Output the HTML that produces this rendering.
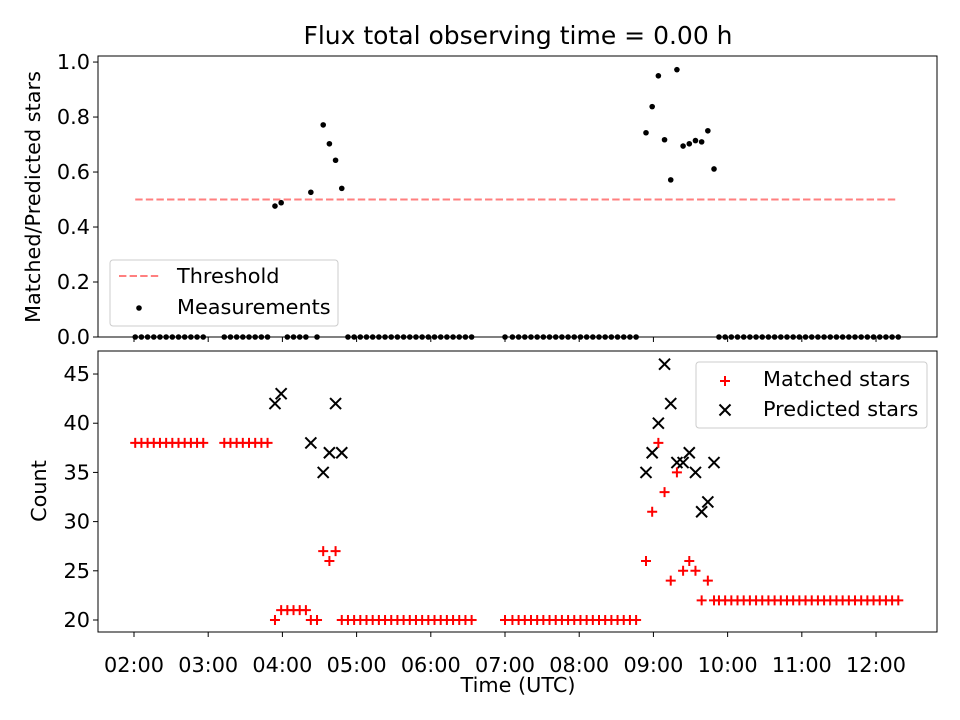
<!DOCTYPE html>
<html><head><meta charset="utf-8"><style>
body{margin:0;background:#fff}
svg{display:block;font-family:"DejaVu Sans","Liberation Sans",sans-serif}
</style></head><body>
<svg id="c" width="960" height="720"></svg>
<script>
// times in minutes since 00:00 UTC
const times=[121,126,131,136,141,146,151,156,161,166,171,176,
193,198,203,208,213,218,223,228,
234,239,244,249,254,259,263,268,273,278,283,288,
293,298,303,308,313,318,323,328,333,338,343,348,353,358,363,368,373,378,383,388,393,
420,426,431,436,441,446,451,456,461,466,471,476,481,486,491,496,501,506,511,516,521,526,
534,539,544,549,554,559,564,569,574,579,584,589,
593,598,603,608,613,618,623,628,633,638,643,648,653,658,663,668,673,678,683,688,693,698,703,708,713,718,723,728,733,738];
const matched=[38,38,38,38,38,38,38,38,38,38,38,38,
38,38,38,38,38,38,38,38,
20,21,21,21,21,21,20,20,27,26,27,20,
20,20,20,20,20,20,20,20,20,20,20,20,20,20,20,20,20,20,20,20,20,
20,20,20,20,20,20,20,20,20,20,20,20,20,20,20,20,20,20,20,20,20,20,
26,31,38,33,24,35,25,26,25,22,24,22,
22,22,22,22,22,22,22,22,22,22,22,22,22,22,22,22,22,22,22,22,22,22,22,22,22,22,22,22,22,22];
const predicted=[0,0,0,0,0,0,0,0,0,0,0,0,
0,0,0,0,0,0,0,0,
42,43,0,0,0,0,38,0,35,37,42,37,
0,0,0,0,0,0,0,0,0,0,0,0,0,0,0,0,0,0,0,0,0,
0,0,0,0,0,0,0,0,0,0,0,0,0,0,0,0,0,0,0,0,0,0,
35,37,40,46,42,36,36,37,35,31,32,36,
0,0,0,0,0,0,0,0,0,0,0,0,0,0,0,0,0,0,0,0,0,0,0,0,0,0,0,0,0,0];
const threshold=0.5;
const xTicks=[120,180,240,300,360,420,480,540,600,660,720];
const xTickLabels=["02:00","03:00","04:00","05:00","06:00","07:00","08:00","09:00","10:00","11:00","12:00"];
const topTicks=[0,0.2,0.4,0.6,0.8,1.0];
const botTicks=[20,25,30,35,40,45];

const NS="http://www.w3.org/2000/svg";
const svg=document.getElementById('c');
function mk(t,a,p){const e=document.createElementNS(NS,t);for(const k in a)e.setAttribute(k,a[k]);(p||svg).appendChild(e);return e;}
const L=98,R=937,T1=56,B1=337,T2=351,B2=632;
const FS=20.8;
const xmin=90.9,xmax=769.3;
const X=v=>L+(v-xmin)/(xmax-xmin)*(R-L);
const Y1=v=>B1-(v-0)/(1.022-0)*(B1-T1);
const Y2=v=>B2-(v-18.78)/(47.34-18.78)*(B2-T2);
const ratio=times.map((t,i)=>predicted[i]>0?matched[i]/predicted[i]:0);

let t=mk('text',{x:518,y:44,'text-anchor':'middle','font-size':25});t.textContent='Flux total observing time = 0.00 h';



// top panel
const g1=mk('g',{});


let th=mk('line',{x1:X(times[0]),x2:X(times[times.length-1]),y1:Y1(threshold),y2:Y1(threshold),stroke:'#ff7f7f','stroke-width':2,'stroke-dasharray':'7.4,3.2'},g1);


times.forEach((tm,i)=>{const c=mk('circle',{cx:X(tm),cy:Y1(ratio[i]),r:2.8,fill:'#000'},g1);

});
mk('rect',{x:L,y:T1,width:R-L,height:B1-T1,fill:'none',stroke:'#000','stroke-width':1},g1);
topTicks.forEach(v=>{mk('line',{x1:L-5,x2:L,y1:Y1(v),y2:Y1(v),stroke:'#000'},g1);
const tx=mk('text',{x:L-8,y:Y1(v)+7,'text-anchor':'end','font-size':FS},g1);tx.textContent=v.toFixed(1);

});
xTicks.forEach(v=>mk('line',{x1:X(v),x2:X(v),y1:B1,y2:B1+5,stroke:'#000'},g1));
t=mk('text',{transform:'translate(40,197) rotate(-90)','text-anchor':'middle','font-size':FS},g1);t.textContent='Matched/Predicted stars';


const lg1=mk('g',{},g1);


mk('rect',{x:110,y:260,width:228,height:66,rx:3,fill:'#fff','fill-opacity':0.8,stroke:'#ccc'},lg1);
mk('line',{x1:119,x2:161,y1:276,y2:276,stroke:'#ff7f7f','stroke-width':2,'stroke-dasharray':'7.4,3.2'},lg1);
t=mk('text',{x:177,y:283,'font-size':FS},lg1);t.textContent='Threshold';
mk('circle',{cx:139,cy:308,r:2.8,fill:'#000'},lg1);
t=mk('text',{x:177,y:314,'font-size':FS},lg1);t.textContent='Measurements';

// bottom panel
const g2=mk('g',{});


function plus(x,y,p){mk('path',{d:`M${x-5},${y}H${x+5}M${x},${y-5}V${y+5}`,stroke:'#f00','stroke-width':2},p);}
function cross(x,y,p){mk('path',{d:`M${x-5.5},${y-5.5}L${x+5.5},${y+5.5}M${x-5.5},${y+5.5}L${x+5.5},${y-5.5}`,stroke:'#000','stroke-width':2},p);}
times.forEach((tm,i)=>{if(predicted[i]>0){const g=mk('g',{},g2);


cross(X(tm),Y2(predicted[i]),g);}});
times.forEach((tm,i)=>{const g=mk('g',{},g2);


plus(X(tm),Y2(matched[i]),g);});
mk('rect',{x:L,y:T2,width:R-L,height:B2-T2,fill:'none',stroke:'#000','stroke-width':1},g2);
botTicks.forEach(v=>{mk('line',{x1:L-5,x2:L,y1:Y2(v),y2:Y2(v),stroke:'#000'},g2);
const tx=mk('text',{x:L-8,y:Y2(v)+7,'text-anchor':'end','font-size':FS},g2);tx.textContent=v;

});
xTicks.forEach((v,i)=>{mk('line',{x1:X(v),x2:X(v),y1:B2,y2:B2+5,stroke:'#000'},g2);
const tx=mk('text',{x:X(v),y:B2+40,'text-anchor':'middle','font-size':FS},g2);tx.textContent=xTickLabels[i];

});
t=mk('text',{transform:'translate(46,491) rotate(-90)','text-anchor':'middle','font-size':FS},g2);t.textContent='Count';


t=mk('text',{x:518,y:692,'text-anchor':'middle','font-size':FS},g2);t.textContent='Time (UTC)';


const lg2=mk('g',{},g2);


mk('rect',{x:696,y:362,width:231,height:66,rx:3,fill:'#fff','fill-opacity':0.8,stroke:'#ccc'},lg2);
plus(725,381,lg2);
t=mk('text',{x:763,y:386,'font-size':FS},lg2);t.textContent='Matched stars';
cross(725,410,lg2);
t=mk('text',{x:763,y:416,'font-size':FS},lg2);t.textContent='Predicted stars';
</script>
</body></html>
